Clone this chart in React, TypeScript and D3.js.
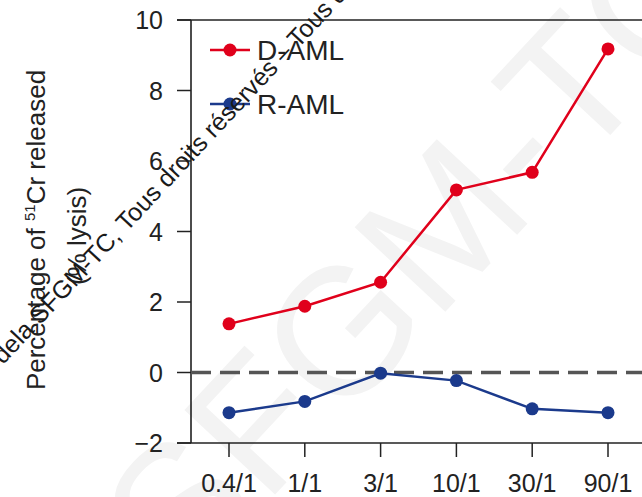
import React from "react";
import * as d3 from "d3";

const categories = ["0.4/1", "1/1", "3/1", "10/1", "30/1", "90/1"];
const dAML = [1.38, 1.88, 2.56, 5.18, 5.68, 9.18];
const rAML = [-1.14, -0.82, -0.02, -0.23, -1.03, -1.14];
const yTicks = [-2, 0, 2, 4, 6, 8, 10];
const seriesNames = ["D-AML", "R-AML"];

const W = 642;
const H = 497;
const FONT = "'Liberation Sans', Arial, Helvetica, sans-serif";
const RED = "#e0001b";
const BLUE = "#1b3a8c";

export default function App() {
  const x = d3.scalePoint<string>().domain(categories).range([229, 608]);
  const y = d3.scaleLinear().domain([-2, 10]).range([443, 20]);
  const left = 191;
  const line = d3
    .line<number>()
    .x((_, i) => x(categories[i]) as number)
    .y((d) => y(d));
  const series = [
    { name: seriesNames[0], values: dAML, color: RED },
    { name: seriesNames[1], values: rAML, color: BLUE },
  ];
  const minus = (v: number) => (v < 0 ? "\u2212" + Math.abs(v) : String(v));

  return (
    <svg
      width={W}
      height={H}
      style={{ position: "absolute", left: 0, top: 0, background: "#fff" }}
      fontFamily={FONT}
    >
      <rect x={0} y={0} width={W} height={H} fill="#fff" />
      {/* faint large watermark */}
      <text
        transform="translate(183,593) rotate(-47)"
        fontSize={180}
        fill="#f3f3f3"
      >
        SFGM-TC
      </text>

      {/* y axis */}
      <line x1={left} x2={left} y1={y(10)} y2={y(-2)} stroke="#111" strokeWidth={1.5} />
      <line x1={177} x2={W} y1={y(10)} y2={y(10)} stroke="#222" strokeWidth={1.5} />
      <line x1={177} x2={W} y1={y(-2)} y2={y(-2)} stroke="#222" strokeWidth={1.5} />
      {yTicks.map((t) => (
        <g key={t}>
          <line x1={177} x2={left} y1={y(t)} y2={y(t)} stroke="#222" strokeWidth={1.5} />
          <text
            x={163}
            y={y(t)}
            dy="0.36em"
            textAnchor="end"
            fontSize={25}
            fill="#222"
          >
            {minus(t)}
          </text>
        </g>
      ))}
      {/* x ticks */}
      {categories.map((c) => (
        <g key={c}>
          <line
            x1={x(c)}
            x2={x(c)}
            y1={y(-2)}
            y2={y(-2) + 14}
            stroke="#222"
            strokeWidth={1.5}
          />
          <text x={x(c)} y={492} textAnchor="middle" fontSize={25} fill="#222">
            {c}
          </text>
        </g>
      ))}

      {/* zero dashed line */}
      <line
        x1={left}
        x2={W}
        y1={y(0)}
        y2={y(0)}
        stroke="#555"
        strokeWidth={3.5}
        strokeDasharray="20 9"
      />

      {/* series */}
      {series.map((s) => (
        <g key={s.name}>
          <path d={line(s.values) || ""} fill="none" stroke={s.color} strokeWidth={2.5} />
          {s.values.map((v, i) => (
            <circle key={i} cx={x(categories[i])} cy={y(v)} r={6.5} fill={s.color} />
          ))}
        </g>
      ))}

      {/* legend */}
      {series.map((s, i) => {
        const ly = 50 + i * 54;
        return (
          <g key={s.name}>
            <line x1={210} x2={250} y1={ly} y2={ly} stroke={s.color} strokeWidth={2.5} />
            <circle cx={230} cy={ly} r={6.5} fill={s.color} />
            <text x={257} y={ly} dy="0.36em" fontSize={28} fill="#222">
              {s.name}
            </text>
          </g>
        );
      })}

      {/* y axis title */}
      <text transform="translate(45,230) rotate(-90)" textAnchor="middle" fontSize={26} fill="#222">
        Percentage of <tspan fontSize={15} dy={-10}>51</tspan>
        <tspan dy={10}>Cr released</tspan>
      </text>
      <text transform="translate(86,236) rotate(-90)" textAnchor="middle" fontSize={26} fill="#222">
        (% lysis)
      </text>

      {/* dark watermark text */}
      <g transform="translate(22,345) rotate(-47)" fontSize={25} fill="#1a1a1a">
        <text textAnchor="end">Propriété de </text>
        <text textAnchor="start">la SFGM-TC, Tous droits réservés – Tous droits réservés</text>
      </g>
    </svg>
  );
}
